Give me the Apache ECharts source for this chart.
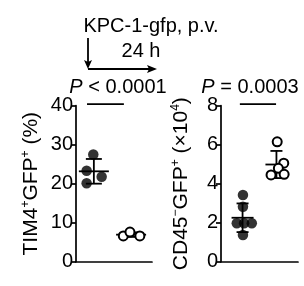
<!DOCTYPE html>
<html>
<head>
<meta charset="utf-8">
<script src="https://cdn.jsdelivr.net/npm/echarts@6/dist/echarts.min.js"></script>
<style>
html,body{margin:0;padding:0;background:#fff;}
#c{width:304px;height:286px;}
</style>
</head>
<body>
<div id="c"></div>
<script>
// ---- data ----
const groups = ['PBS', 'KPC'];
// Left panel: TIM4+GFP+ (%)
const tim4FilledX = [0.455, 0.28, 0.675, 0.28];
const tim4Filled  = [27.5, 23.3, 21.8, 20.1];
const tim4OpenX   = [1.245, 1.42, 1.68];
const tim4Open    = [6.6, 7.6, 6.6];
const tim4GroupX  = [0.47, 1.45];
const tim4Ticks   = [0, 10, 20, 30, 40];
const tim4SigX    = [0.29, 1.26];
const tim4P       = 'P < 0.0001';
// Right panel: CD45-GFP+ (x10^4)
const cd45FilledX = [0.57, 0.57, 0.41, 0.6, 0.8, 0.57];
const cd45Filled  = [3.42, 2.82, 1.97, 1.97, 1.97, 1.37];
const cd45OpenX   = [1.46, 1.63, 1.49, 1.3, 1.64];
const cd45Open    = [6.15, 5.05, 4.79, 4.45, 4.48];
const cd45GroupX  = [0.56, 1.44];
const cd45Ticks   = [0, 2, 4, 6, 8];
const cd45SigX    = [0.49, 1.43];
const cd45P       = 'P = 0.0003';

// ---- helpers ----
function mean(a){return a.reduce((s,v)=>s+v,0)/a.length;}
function sd(a){const m=mean(a);return Math.sqrt(a.reduce((s,v)=>s+(v-m)*(v-m),0)/(a.length-1));}
function pts(xs, ys){return ys.map((v,i)=>[xs[i], v]);}

const FONT = '"Liberation Sans", Arial, Helvetica, sans-serif';
const chart = echarts.init(document.getElementById('c'), null, {renderer:'canvas'});

function errRender(hwMean, hwCap){
  return function(params, api){
    const x = api.value(0), m = api.value(1), s = api.value(2);
    const c = api.coord([x, m]);
    const t = api.coord([x, m + s]);
    const b = api.coord([x, m - s]);
    const st = {stroke:'#000', lineWidth:1.8};
    return {type:'group', children:[
      {type:'line', shape:{x1:c[0]-hwMean, y1:c[1], x2:c[0]+hwMean, y2:c[1]}, style:st},
      {type:'line', shape:{x1:t[0], y1:t[1], x2:b[0], y2:b[1]}, style:st},
      {type:'line', shape:{x1:t[0]-hwCap, y1:t[1], x2:t[0]+hwCap, y2:t[1]}, style:st},
      {type:'line', shape:{x1:b[0]-hwCap, y1:b[1], x2:b[0]+hwCap, y2:b[1]}, style:st}
    ]};
  };
}

function yAx(idx, ticks, name, gap){
  return {
    gridIndex: idx, type:'value', min: ticks[0], max: ticks[ticks.length-1],
    interval: ticks[1]-ticks[0],
    axisLine:{show:true, lineStyle:{color:'#000', width:1.7}},
    axisTick:{show:true, length:5, lineStyle:{color:'#000', width:1.7}},
    axisLabel:{color:'#000', fontSize:20, fontFamily:FONT, margin:3},
    splitLine:{show:false},
    name: name, nameLocation:'middle', nameRotate:90, nameGap: gap,
    nameTextStyle:{color:'#000', fontFamily:FONT, fontSize:21,
      rich:{
        n:{fontSize:21, fontFamily:FONT, color:'#000', lineHeight:23},
        s:{fontSize:12, fontFamily:FONT, color:'#000', verticalAlign:'top', lineHeight:23}
      }}
  };
}
function xAx(idx){
  return {gridIndex: idx, type:'value', min:0, max:2,
    axisLine:{show:true, onZero:false, lineStyle:{color:'#000', width:1.7}},
    axisTick:{show:false}, axisLabel:{show:false}, splitLine:{show:false}};
}

const option = {
  animation:false,
  backgroundColor:'#fff',
  grid:[
    {left:76, top:105.7, width:76, height:156},
    {left:221, top:105.7, width:77, height:156}
  ],
  xAxis:[xAx(0), xAx(1)],
  yAxis:[
    yAx(0, tim4Ticks, '{n|TIM4}{s|+}{n|GFP}{s|+}{n| (%)}', 33),
    yAx(1, cd45Ticks, '{n|CD45}{s|−}{n|GFP}{s|+}{n| (×10}{s|4}{n|)}', 28)
  ],
  series:[
    {type:'custom', xAxisIndex:0, yAxisIndex:0, z:2, renderItem:errRender(15,8),
      data:[[tim4GroupX[0], mean(tim4Filled), sd(tim4Filled)], [tim4GroupX[1], mean(tim4Open), sd(tim4Open)]]},
    {type:'custom', xAxisIndex:1, yAxisIndex:1, z:2, renderItem:errRender(11,6),
      data:[[cd45GroupX[0], mean(cd45Filled), sd(cd45Filled)], [cd45GroupX[1], mean(cd45Open), sd(cd45Open)]]},
    {type:'scatter', xAxisIndex:0, yAxisIndex:0, z:3, symbolSize:10.5,
      itemStyle:{color:'#000'}, data:pts(tim4FilledX, tim4Filled)},
    {type:'scatter', xAxisIndex:0, yAxisIndex:0, z:3, symbolSize:9,
      itemStyle:{color:'#fff', borderColor:'#000', borderWidth:2, opacity:1}, data:pts(tim4OpenX, tim4Open)},
    {type:'scatter', xAxisIndex:1, yAxisIndex:1, z:3, symbolSize:10.5,
      itemStyle:{color:'#000'}, data:pts(cd45FilledX, cd45Filled)},
    {type:'scatter', xAxisIndex:1, yAxisIndex:1, z:3, symbolSize:9,
      itemStyle:{color:'#fff', borderColor:'#000', borderWidth:2, opacity:1}, data:pts(cd45OpenX, cd45Open)},
    {type:'line', xAxisIndex:0, yAxisIndex:0, clip:false, symbol:'none', silent:true,
      lineStyle:{color:'#000', width:1.8},
      data:[[tim4SigX[0], 40.4],[tim4SigX[1], 40.4]]},
    {type:'line', xAxisIndex:1, yAxisIndex:1, clip:false, symbol:'none', silent:true,
      lineStyle:{color:'#000', width:1.8},
      data:[[cd45SigX[0], 8.08],[cd45SigX[1], 8.08]]}
  ],
  graphic:[
    {type:'text', x:151, y:26, style:{text:'KPC-1-gfp, p.v.', font:'20px '+FONT, fill:'#000', align:'center', verticalAlign:'middle'}},
    {type:'text', x:141, y:51, style:{text:'24 h', font:'20px '+FONT, fill:'#000', align:'center', verticalAlign:'middle'}},
    {type:'polyline', shape:{points:[[88,38],[88,64]]}, style:{stroke:'#000', lineWidth:1.8, fill:null}},
    {type:'polygon', shape:{points:[[84,60],[88,69],[92,60],[88,62]]}, style:{fill:'#000'}},
    {type:'polyline', shape:{points:[[88,69],[152,69]]}, style:{stroke:'#000', lineWidth:1.8, fill:null}},
    {type:'polygon', shape:{points:[[147,65],[157,69],[147,73],[149,69]]}, style:{fill:'#000'}},
    {type:'text', x:118, y:87, style:{text:'{i|P}{n|'+tim4P.slice(1)+'}', align:'center', verticalAlign:'middle',
      rich:{i:{font:'italic 20px '+FONT, fill:'#000'}, n:{font:'20px '+FONT, fill:'#000'}}}},
    {type:'text', x:250, y:87, style:{text:'{i|P}{n|'+cd45P.slice(1)+'}', align:'center', verticalAlign:'middle',
      rich:{i:{font:'italic 20px '+FONT, fill:'#000'}, n:{font:'20px '+FONT, fill:'#000'}}}}
  ]
};
chart.setOption(option);
</script>
</body>
</html>
